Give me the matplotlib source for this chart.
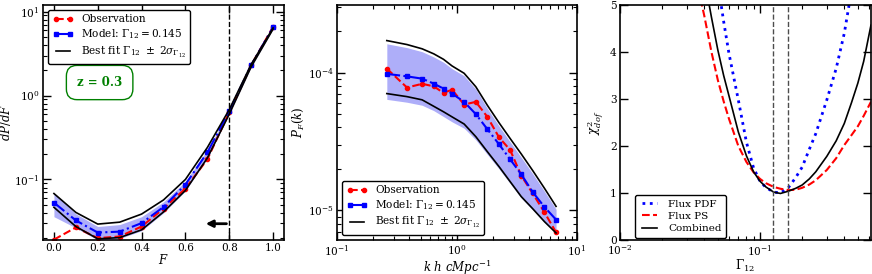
import matplotlib
matplotlib.use("Agg")
import matplotlib.pyplot as plt
from matplotlib.ticker import LogLocator, NullFormatter

# ---- panel 1: flux PDF ----
flux = [0.0, 0.1, 0.2, 0.3, 0.4, 0.5, 0.6, 0.7, 0.8, 0.9, 1.0]
pdf_obs = [0.0192, 0.0268, 0.0200, 0.0209, 0.0275, 0.045, 0.078, 0.174, 0.63, 2.29, 6.6]
pdf_model = [0.053, 0.0325, 0.0233, 0.0239, 0.0302, 0.047, 0.087, 0.21, 0.65, 2.3, 6.5]
pdf_fit_hi = [0.068, 0.0405, 0.0294, 0.031, 0.0387, 0.057, 0.10, 0.24, 0.68, 2.35, 6.4]
pdf_fit_lo = [0.0466, 0.0275, 0.0196, 0.0203, 0.0251, 0.041, 0.074, 0.18, 0.60, 2.2, 6.2]
pdf_band_hi = [0.069, 0.039, 0.0275, 0.029, 0.036, 0.054, 0.095, 0.225, 0.66, 2.3, 6.4]
pdf_band_lo = [0.036, 0.0265, 0.019, 0.0198, 0.0245, 0.040, 0.073, 0.18, 0.60, 2.2, 6.2]

# ---- panel 2: flux power spectrum ----
k = [0.26, 0.383, 0.512, 0.64, 0.772, 0.908, 1.146, 1.435, 1.79, 2.24, 2.77, 3.43, 4.27, 5.35, 6.69]
ps_obs = [1.07e-4, 7.8e-5, 8.3e-5, 7.96e-5, 7.13e-5, 7.53e-5, 5.87e-5, 6.14e-5,
          4.78e-5, 3.39e-5, 2.75e-5, 1.79e-5, 1.33e-5, 9.7e-6, 6.93e-6]
ps_model = [9.8e-5, 9.4e-5, 9.05e-5, 8.33e-5, 7.66e-5, 7.05e-5, 6.14e-5, 5.0e-5,
            3.89e-5, 3.02e-5, 2.35e-5, 1.83e-5, 1.36e-5, 1.06e-5, 8.57e-6]
ps_fit_hi = [1.71e-4, 1.6e-4, 1.49e-4, 1.37e-4, 1.25e-4, 1.12e-4, 9.9e-5, 7.9e-5,
             5.8e-5, 4.33e-5, 3.33e-5, 2.57e-5, 1.95e-5, 1.45e-5, 1.07e-5]
ps_fit_lo = [7.05e-5, 6.7e-5, 6.35e-5, 5.7e-5, 5.2e-5, 4.78e-5, 4.24e-5, 3.43e-5,
             2.67e-5, 2.08e-5, 1.62e-5, 1.26e-5, 1.03e-5, 8.3e-6, 6.86e-6]
ps_band_hi = [1.62e-4, 1.52e-4, 1.42e-4, 1.30e-4, 1.19e-4, 1.07e-4, 9.5e-5, 7.6e-5,
              5.5e-5, 4.1e-5, 3.15e-5, 2.43e-5, 1.85e-5, 1.38e-5, 1.02e-5]
ps_band_lo = [6.4e-5, 6.1e-5, 5.8e-5, 5.3e-5, 4.8e-5, 4.4e-5, 3.95e-5, 3.25e-5,
              2.55e-5, 2.0e-5, 1.57e-5, 1.23e-5, 1.01e-5, 8.2e-6, 6.9e-6]

# ---- panel 3: chi^2 vs Gamma_12 ----
gamma = [0.035, 0.04, 0.045, 0.05, 0.055, 0.06, 0.07, 0.08, 0.09, 0.10, 0.11, 0.125,
         0.14, 0.16, 0.18, 0.20, 0.225, 0.25, 0.30, 0.35, 0.40, 0.45, 0.50, 0.55, 0.62]
chi_pdf = [8.5, 7.6, 6.5, 5.46, 4.65, 3.97, 2.98, 2.08, 1.53, 1.25, 1.12, 1.02,
           1.0, 1.12, 1.33, 1.55, 1.93, 2.26, 2.98, 3.65, 4.4, 5.3, 6.0, 6.8, 7.9]
chi_ps = [5.55, 4.77, 4.0, 3.4, 2.95, 2.58, 2.0, 1.66, 1.44, 1.30, 1.21, 1.13,
          1.09, 1.06, 1.07, 1.11, 1.18, 1.27, 1.49, 1.74, 2.02, 2.23, 2.42, 2.64, 2.94]
chi_comb = [6.4, 5.57, 4.74, 4.04, 3.5, 3.07, 2.30, 1.79, 1.45, 1.25, 1.13, 1.02,
            0.99, 1.04, 1.10, 1.17, 1.30, 1.45, 1.78, 2.11, 2.48, 2.92, 3.34, 3.8, 4.57]
gamma_lo, gamma_hi = 0.123, 0.158

plt.rcParams.update({
    "font.family": "DejaVu Serif",
    "mathtext.fontset": "dejavuserif",
    "font.size": 8,
    "axes.linewidth": 1.2,
    "xtick.direction": "in", "ytick.direction": "in",
    "xtick.top": True, "ytick.right": True,
    "xtick.major.size": 6, "ytick.major.size": 6,
    "xtick.minor.size": 3, "ytick.minor.size": 3,
    "xtick.major.width": 1.0, "ytick.major.width": 1.0,
    "xtick.minor.width": 0.8, "ytick.minor.width": 0.8,
    "xtick.labelsize": 7.6, "ytick.labelsize": 7.6,
    "xtick.major.pad": 2.5, "ytick.major.pad": 2.5,
    "legend.fontsize": 7.6,
})


def log_minor(axis):
    axis.set_major_locator(LogLocator(base=10, numticks=20))
    axis.set_minor_locator(LogLocator(base=10, subs=range(2, 10), numticks=100))
    axis.set_minor_formatter(NullFormatter())


fig = plt.figure(figsize=(8.72, 2.74), dpi=100)
ax1 = fig.add_axes([0.0493, 0.1241, 0.2764, 0.8577])
ax2 = fig.add_axes([0.3865, 0.1241, 0.2752, 0.8577])
ax3 = fig.add_axes([0.711, 0.1241, 0.2878, 0.8577])

band_col = (0.55, 0.55, 0.97)
obs_kw = dict(color="red", ls="--", lw=1.5, marker="o", ms=3, mec="red")
mod_kw = dict(color="blue", ls="-.", lw=1.5, marker="s", ms=3.5, mec="blue")
leg_kw = dict(numpoints=2, handlelength=2.0, framealpha=1, edgecolor="k",
              borderpad=0.4, labelspacing=0.3, handletextpad=0.7)
fit_label = r"Best fit $\Gamma_{12}\ \pm\ 2\sigma_{\Gamma_{12}}$"
mod_label = r"Model: $\Gamma_{12}=0.145$"

# panel 1
ax1.fill_between(flux, pdf_band_lo, pdf_band_hi, color=band_col, alpha=0.7, lw=0)
ax1.plot(flux, pdf_obs, label="Observation", **obs_kw)
ax1.plot(flux, pdf_model, label=mod_label, **mod_kw)
ax1.plot(flux, pdf_fit_hi, "k-", lw=1.2, label=fit_label)
ax1.plot(flux, pdf_fit_lo, "k-", lw=1.2)
ax1.axvline(0.8, color="k", ls="--", lw=1)
ax1.annotate("", xy=(0.68, 0.0297), xytext=(0.8, 0.0297),
             arrowprops=dict(arrowstyle="-|>", color="k", lw=2, mutation_scale=10))
ax1.text(0.235, 0.67, "z = 0.3", transform=ax1.transAxes, color="green",
         fontweight="bold", fontsize=8.5, ha="center", va="center",
         bbox=dict(boxstyle="round,pad=0.9", fc="white", ec="green", lw=1))
ax1.set_yscale("log")
log_minor(ax1.yaxis)
ax1.set_xlim(-0.05, 1.05)
ax1.set_ylim(0.019, 12)
ax1.set_xticks([0.0, 0.2, 0.4, 0.6, 0.8, 1.0])
ax1.set_xlabel(r"$F$", fontsize=8.5, labelpad=0)
ax1.set_ylabel(r"$dP/dF$", fontsize=8.5, labelpad=1)
ax1.legend(loc="upper left", **leg_kw)

# panel 2
ax2.fill_between(k, ps_band_lo, ps_band_hi, color=band_col, alpha=0.7, lw=0)
ax2.plot(k, ps_obs, label="Observation", **obs_kw)
ax2.plot(k, ps_model, label=mod_label, **mod_kw)
ax2.plot(k, ps_fit_hi, "k-", lw=1.2, label=fit_label)
ax2.plot(k, ps_fit_lo, "k-", lw=1.2)
ax2.set_xscale("log")
ax2.set_yscale("log")
log_minor(ax2.xaxis)
log_minor(ax2.yaxis)
ax2.set_xlim(0.1, 10)
ax2.set_ylim(6.1e-6, 3.1e-4)
ax2.set_xlabel(r"$k\ h\ cMpc^{-1}$", fontsize=8.5, labelpad=0)
ax2.set_ylabel(r"$P_F(k)$", fontsize=8.5, labelpad=1)
ax2.legend(loc="lower left", **leg_kw)

# panel 3
ax3.plot(gamma, chi_pdf, color="blue", ls=":", lw=2, label="Flux PDF")
ax3.plot(gamma, chi_ps, color="red", ls="--", lw=1.5, label="Flux PS")
ax3.plot(gamma, chi_comb, color="k", ls="-", lw=1.2, label="Combined")
ax3.axvline(gamma_lo, color="0.3", ls="--", lw=1)
ax3.axvline(gamma_hi, color="0.3", ls="--", lw=1)
ax3.set_xscale("log")
log_minor(ax3.xaxis)
ax3.set_xlim(0.01, 0.62)
ax3.set_ylim(0, 5)
ax3.set_xlabel(r"$\Gamma_{12}$", fontsize=8.5, labelpad=0)
ax3.set_ylabel(r"$\chi^2_{dof}$", fontsize=8.5, labelpad=3)
ax3.legend(loc="lower left", bbox_to_anchor=(0.06, 0.01), borderaxespad=0,
           numpoints=2, handlelength=2.0, framealpha=1, edgecolor="k",
           borderpad=0.4, labelspacing=0.3, handletextpad=0.8, fontsize=7.5)

fig.savefig("out.png", dpi=100)
